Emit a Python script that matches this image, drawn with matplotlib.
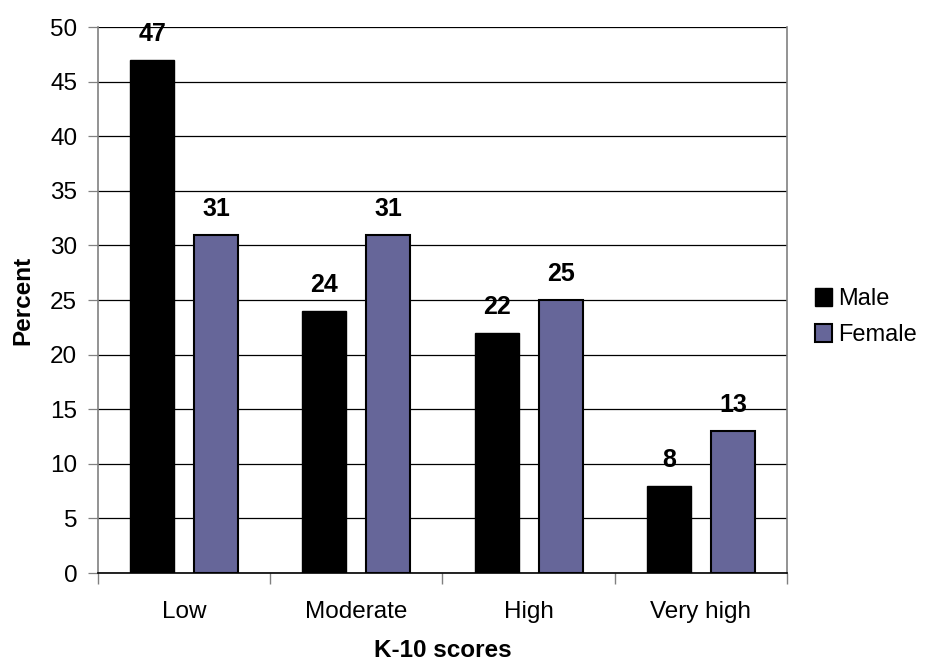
import numpy as np
import matplotlib.pyplot as plt
from matplotlib.ticker import FixedLocator

plt.rcParams['font.family'] = ['Liberation Sans', 'DejaVu Sans']

# K-10 psychological distress scores by sex
categories = ['Low', 'Moderate', 'High', 'Very high']
male = [47, 24, 22, 8]
female = [31, 31, 25, 13]

fig = plt.figure(figsize=(9.28, 6.61), dpi=100)
ax = fig.add_axes([0.1056, 0.1331, 0.848 - 0.1056, 0.959 - 0.1331])

x = np.arange(len(categories))
w = 0.255
off = 0.186

b1 = ax.bar(x - off, male, w, color='black', edgecolor='black', linewidth=1, label='Male', zorder=3)
b2 = ax.bar(x + off, female, w, color='#666699', edgecolor='black', linewidth=1.5, label='Female', zorder=3)

for bars, vals in ((b1, male), (b2, female)):
    for rect, v in zip(bars, vals):
        ax.annotate(str(v), (rect.get_x() + rect.get_width() / 2, v),
                    xytext=(0, 10), textcoords='offset points',
                    ha='center', va='bottom', fontsize=18, fontweight='bold')

ax.set_xlim(-0.5, len(categories) - 0.5)
ax.set_ylim(0, 50)
ax.set_yticks(range(0, 51, 5))
ax.yaxis.grid(True, color='black', linewidth=0.9, zorder=0)
ax.tick_params(axis='y', labelsize=17.5, length=7, width=0.9, color='#808080', pad=8)

# category boundaries carry the ticks, labels sit between them
ax.xaxis.set_major_locator(FixedLocator(np.arange(-0.5, len(categories), 1.0)))
ax.xaxis.set_minor_locator(FixedLocator(x))
ax.set_xticklabels([])
ax.set_xticklabels(categories, minor=True)
ax.tick_params(axis='x', which='major', length=8, width=1, color='#808080')
ax.tick_params(axis='x', which='minor', length=0, labelsize=17.5, pad=20)

ax.spines['top'].set_visible(False)
ax.spines['left'].set_color('#808080')
ax.spines['right'].set_color('#808080')
ax.spines['bottom'].set_color('black')
ax.spines['left'].set_linewidth(1.2)
ax.spines['right'].set_linewidth(1.2)
ax.spines['bottom'].set_linewidth(1.2)
ax.spines['bottom'].set_zorder(4)

ax.set_ylabel('Percent', fontsize=17.5, fontweight='bold', labelpad=11)
ax.set_xlabel('K-10 scores', fontsize=17.5, fontweight='bold', labelpad=12)

fig.legend(handles=[b1, b2], labels=['Male', 'Female'], loc='center left',
           bbox_to_anchor=(0.878, 0.52), frameon=False, fontsize=17,
           borderpad=0, borderaxespad=0,
           handlelength=0.75, handleheight=0.75, handletextpad=0.25, labelspacing=0.6)

fig.savefig('out.png', dpi=100)
